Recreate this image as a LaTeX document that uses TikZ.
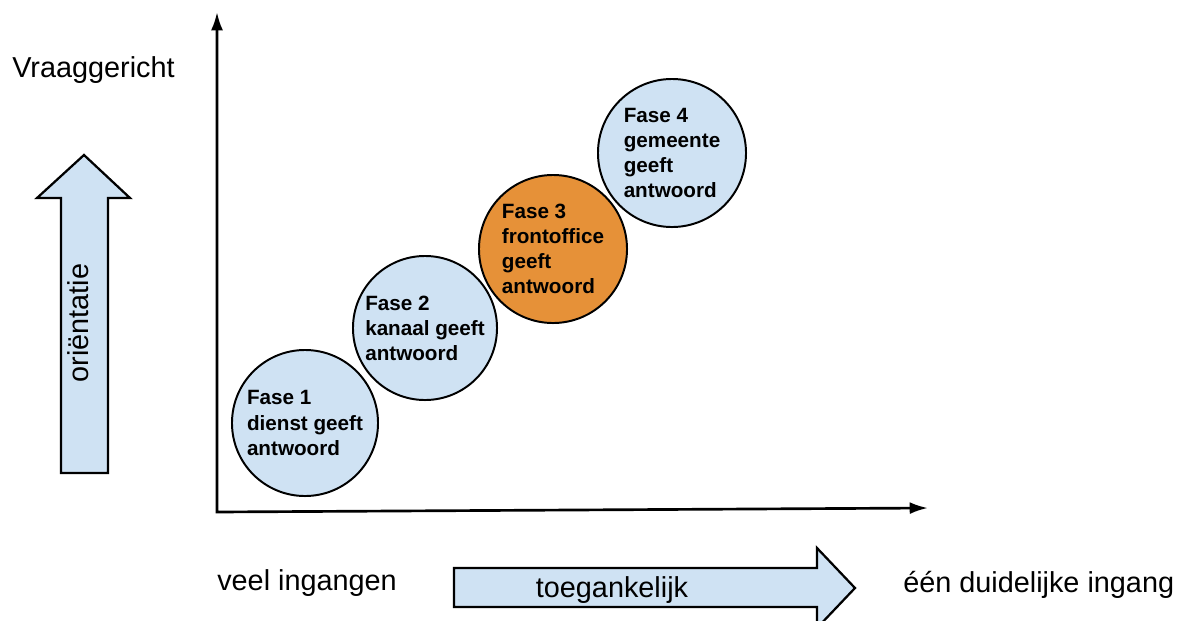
\documentclass[tikz,border=0pt]{standalone}
\usepackage{fontspec}
\setmainfont{Liberation Sans}
\usepackage{xcolor}
\usetikzlibrary{shapes,arrows.meta,positioning,calc}

\definecolor{faseblue}{HTML}{CFE2F3}
\definecolor{faseorange}{HTML}{E69138}

\begin{document}
\begin{tikzpicture}[
    x=0.025cm, y=-0.025cm,
    fase/.style={circle, draw, line width=1.4pt, fill=faseblue, align=left, inner sep=0pt, minimum size=3.7cm, font=\fontsize{14.7}{17.8}\selectfont\bfseries},
    blockarrow/.style={draw, line width=1.6pt, fill=faseblue, line join=miter},
    axislabel/.style={font=\fontsize{20.5}{24}\selectfont, inner sep=0pt},
    axis/.style={{Latex[length=13pt,width=8.5pt]}-{Latex[length=13pt,width=8.5pt]}, line width=1.9pt}
]
\useasboundingbox (0,0) rectangle (1180,620);

% Axes
\coordinate (ytop) at (217,12);
\coordinate (origin) at (217,512);
\coordinate (xend) at (928,508);
\draw[axis] (ytop) -- (origin) -- (xend);

% Block arrows
\draw[blockarrow] (61,473) -- (61,198) -- (37,198) -- (84,155) -- (130,198) -- (108,198) -- (108,473) -- cycle;
\node[axislabel, rotate=90, anchor=base] (orientatie) at (88,323) {oriëntatie};

\draw[blockarrow] (454,568) -- (817,568) -- (817,548) -- (855,588) -- (817,628) -- (817,607) -- (454,607) -- cycle;
\node[axislabel, anchor=base] (toegankelijk) at (612,597) {toegankelijk};

% Labels
\node[axislabel, anchor=base west] (vraag) at (12,77) {Vraaggericht};
\node[axislabel, anchor=base west] (veel) at (217,590) {veel ingangen};
\node[axislabel, anchor=base west] (een) at (903,592) {één duidelijke ingang};

% Phases
\node[fase, minimum size=3.65cm] (fase1) at (305,423) {Fase 1\\dienst geeft\\antwoord};
\node[fase, minimum size=3.6cm] (fase2) at (425,328) {Fase 2\\kanaal geeft\\antwoord};
\node[fase, fill=faseorange] (fase3) at (553,249) {Fase 3\\frontoffice\\geeft\\antwoord};
\node[fase] (fase4) at (672,153) {Fase 4\\gemeente\\geeft\\antwoord};

\end{tikzpicture}
\end{document}
